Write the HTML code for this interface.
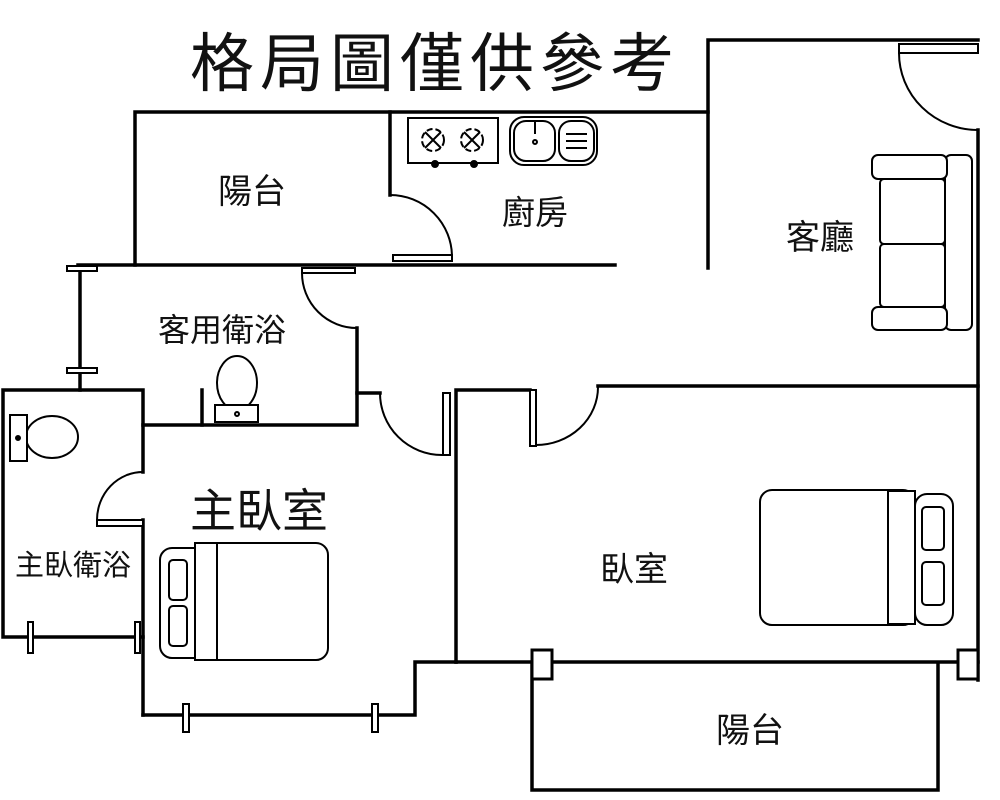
<!DOCTYPE html>
<html><head><meta charset="utf-8"><style>
body{margin:0;background:#fff}
svg{display:block}
text{font-family:"Liberation Sans","Noto Sans CJK TC",sans-serif;fill:#111}
</style></head><body>
<svg width="1000" height="800" viewBox="0 0 1000 800" xmlns="http://www.w3.org/2000/svg">
<g stroke="#000" stroke-width="3.5" fill="none" stroke-linecap="square">
<polyline points="708,268 708,40 978,40"/>
<line x1="978" y1="130" x2="978" y2="680"/>
<polyline points="135,265 135,112 708,112"/>
<line x1="390" y1="112" x2="390" y2="195"/>
<line x1="78" y1="265" x2="615" y2="265"/>
<line x1="80" y1="268" x2="80" y2="390"/>
<polyline points="357,328 357,425 143,425"/>
<polyline points="202,425 202,390"/>
<line x1="357" y1="393" x2="380" y2="393"/>
<polyline points="143,472 143,390 3,390 3,637 143,637"/>
<line x1="143" y1="520" x2="143" y2="715"/>
<polyline points="143,715 415,715 415,662 456,662"/>
<polyline points="456,662 456,390 530,390"/>
<line x1="598" y1="386" x2="978" y2="386"/>
<line x1="456" y1="662" x2="978" y2="662"/>
<polyline points="532,665 532,790 938,790 938,665"/>
</g>
<g stroke="#000" stroke-width="2" fill="#fff">
<rect x="899" y="44" width="79" height="9"/>
<path d="M899,53 A79,77 0 0 0 978,130" fill="none"/>
<rect x="393" y="255" width="59" height="6"/>
<path d="M390,195 A62,62 0 0 1 452,257" fill="none"/>
<rect x="302" y="268" width="53" height="5"/>
<path d="M302,273 A55,55 0 0 0 357,328" fill="none"/>
<rect x="443" y="393" width="7" height="62"/>
<path d="M380,393 A62,62 0 0 0 442,455" fill="none"/>
<rect x="530" y="390" width="6" height="56"/>
<path d="M536,445 A62,58 0 0 0 598,387" fill="none"/>
<rect x="97" y="520" width="46" height="6"/>
<path d="M143,472 A46,48 0 0 0 97,520" fill="none"/>
<rect x="67" y="266" width="30" height="5"/>
<rect x="67" y="368" width="30" height="5"/>
<rect x="28" y="622" width="5" height="31"/>
<rect x="135" y="622" width="5" height="31"/>
<rect x="183" y="704" width="6" height="28"/>
<rect x="372" y="704" width="6" height="28"/>
<rect x="532" y="650" width="20" height="29" stroke-width="3"/>
<rect x="958" y="650" width="20" height="29" stroke-width="3"/>
<rect x="408" y="118" width="90" height="45"/>
<circle cx="433" cy="140" r="11" stroke-dasharray="6 3"/><circle cx="472" cy="140" r="11" stroke-dasharray="6 3"/>
<path d="M425,132 L441,148 M441,132 L425,148 M464,132 L480,148 M480,132 L464,148" fill="none"/>
<circle cx="435" cy="164" r="3" fill="#000"/><circle cx="474" cy="164" r="3" fill="#000"/>
<rect x="510" y="117" width="87" height="48" rx="14"/>
<rect x="514" y="121" width="41" height="40" rx="12"/>
<rect x="559" y="121" width="35" height="40" rx="12"/>
<circle cx="535" cy="142" r="2"/><line x1="535" y1="122" x2="535" y2="134"/>
<path d="M566,134 H587 M566,141 H587 M566,148 H587" fill="none"/>
<rect x="945" y="155" width="27" height="175" rx="6"/>
<rect x="872" y="155" width="75" height="24" rx="6"/>
<rect x="872" y="307" width="75" height="23" rx="6"/>
<rect x="880" y="179" width="65" height="65" rx="4"/>
<rect x="880" y="244" width="65" height="63" rx="4"/>
<ellipse cx="237" cy="383" rx="20" ry="27"/>
<rect x="215" y="405" width="43" height="17"/>
<circle cx="237" cy="414" r="2"/>
<ellipse cx="52" cy="437" rx="26" ry="21"/>
<rect x="10" y="415" width="17" height="46"/>
<circle cx="18" cy="438" r="2" fill="#000"/>
<rect x="160" y="548" width="50" height="110" rx="12"/>
<rect x="195" y="543" width="133" height="117" rx="12"/>
<rect x="195" y="543" width="22" height="117"/>
<rect x="169" y="560" width="18" height="40" rx="4"/>
<rect x="169" y="606" width="18" height="40" rx="4"/>
<rect x="915" y="494" width="38" height="131" rx="12"/>
<rect x="760" y="490" width="155" height="135" rx="12"/>
<rect x="888" y="491" width="27" height="133"/>
<rect x="922" y="507" width="22" height="43" rx="4"/>
<rect x="922" y="562" width="22" height="43" rx="4"/>
</g>
<text x="190" y="86" font-size="64" letter-spacing="6">格局圖僅供參考</text>
<text x="218" y="203" font-size="34">陽台</text>
<text x="502" y="224" font-size="33">廚房</text>
<text x="786" y="249" font-size="34">客廳</text>
<text x="158" y="341" font-size="32">客用衛浴</text>
<text x="190" y="527" font-size="46">主臥室</text>
<text x="15" y="575" font-size="29">主臥衛浴</text>
<text x="600" y="581" font-size="34">臥室</text>
<text x="716" y="742" font-size="34">陽台</text>
</svg>
</body></html>
